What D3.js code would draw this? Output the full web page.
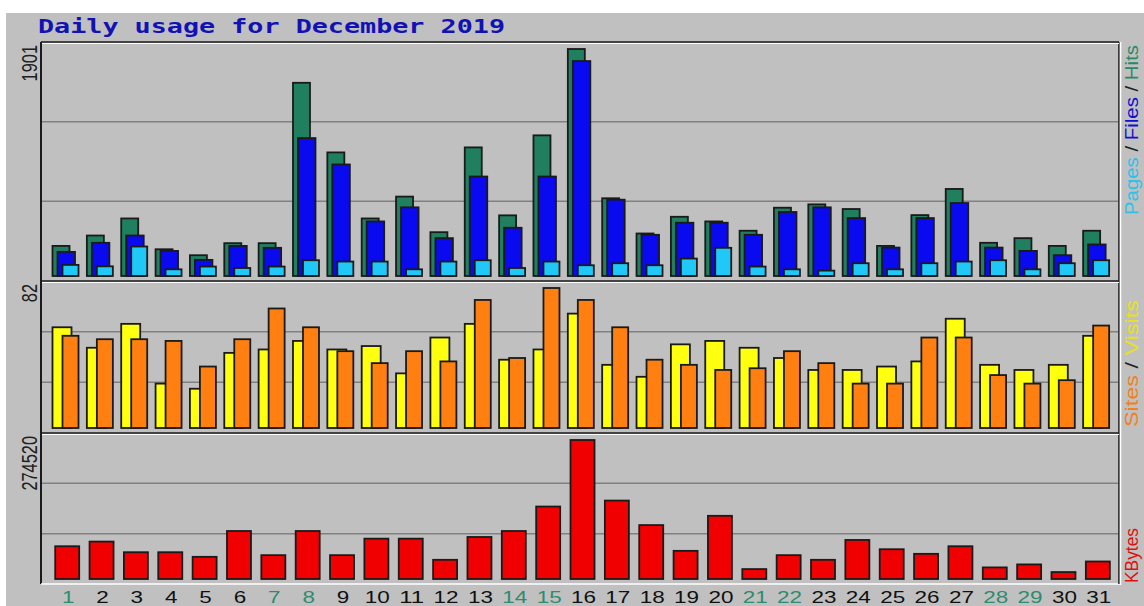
<!DOCTYPE html>
<html>
<head>
<meta charset="utf-8">
<script src="https://cdn.jsdelivr.net/npm/d3@7"></script>
<style>
  html, body { margin: 0; padding: 0; background: #fff; }
  svg { display: block; }
</style>
</head>
<body>
<div id="chart"></div>
<script>
// daily usage, December 2019
const days = d3.range(1, 32);
const weekends = [1, 7, 8, 14, 15, 21, 22, 28, 29];

const hits   = [252, 339, 482, 224, 174, 275, 275, 1618, 1035, 482, 665, 367, 1077, 508, 1178, 1901,
                651, 356, 496, 457, 379, 572, 600, 561, 252, 510, 729, 278, 317, 252, 379];
const files  = [202, 278, 339, 210, 135, 252, 236, 1155, 934, 457, 575, 317, 833, 404, 833, 1800,
                639, 345, 446, 446, 345, 536, 575, 485, 238, 485, 611, 238, 210, 174, 264];
const pages  = [93, 81, 247, 56, 79, 67, 79, 132, 121, 121, 56, 121, 132, 67, 121, 90,
                107, 90, 146, 236, 79, 56, 45, 107, 56, 107, 121, 132, 56, 107, 132];
const visits = [59, 47, 61, 26, 23, 44, 46, 51, 46, 48, 32, 53, 61, 40, 46, 67,
                37, 30, 49, 51, 47, 41, 34, 34, 36, 39, 64, 37, 34, 37, 54];
const sites  = [54, 52, 52, 51, 36, 52, 70, 59, 45, 38, 45, 39, 75, 41, 82, 75,
                59, 40, 37, 34, 35, 45, 38, 26, 26, 53, 53, 31, 26, 28, 60];
const kbytes = [64700, 73900, 52900, 52900, 43800, 94800, 47100, 94800, 47100, 79700, 79700, 37900,
                83000, 94800, 143100, 274520, 154900, 106500, 55600, 124800, 19600, 47100, 37900,
                77100, 58800, 49700, 64700, 22900, 28800, 13700, 34600];

const title = "Daily usage for December 2019";

const width = 1144, height = 606;
const frame = {left: 41, right: 1119, top: 42, bottom: 584};
const panels = [
  {top: 42, bottom: 281},
  {top: 281, bottom: 433},
  {top: 433, bottom: 584}
];

const svg = d3.select("#chart").append("svg")
  .attr("width", width)
  .attr("height", height);

svg.append("rect").attr("x", 6).attr("y", 13)
  .attr("width", width - 6).attr("height", height - 13)
  .attr("fill", "#c0c0c0");

// x: one band per day
const x = d3.scaleBand().domain(days).range([50, 1115]).paddingInner(0);
const step = x.step();

// gridlines at thirds of each panel
panels.forEach(function (p) {
  let h = (p.bottom - p.top) / 3;
  [1, 2].forEach(function (k) {
    svg.append("line")
      .attr("x1", frame.left + 1).attr("x2", frame.right - 1)
      .attr("y1", p.top + h * k).attr("y2", p.top + h * k)
      .attr("stroke", "#808080").attr("stroke-width", 1.5);
  });
});

function yFor(p, max) {
  return d3.scaleLinear().domain([0, max]).range([p.bottom - 5, p.top + 7]);
}

// series: values, colour, bar offset from band start, bar width
function drawBars(p, max, series) {
  let y = yFor(p, max);
  series.forEach(function (s) {
    svg.append("g").selectAll("rect").data(days).enter()
      .append("rect")
      .attr("x", function (d) { return x(d) + s.off; })
      .attr("width", s.w)
      .attr("y", function (d, i) { return y(s.values[i]); })
      .attr("height", function (d, i) { return y(0) - y(s.values[i]); })
      .attr("fill", s.color)
      .attr("stroke", "#1a1a1a")
      .attr("stroke-width", 1.8);
  });
}

drawBars(panels[0], d3.max(hits), [
  {values: hits,  color: "#1f7f5f", off: 2.5,  w: 17},
  {values: files, color: "#0a0af0", off: 7.5,  w: 17.5},
  {values: pages, color: "#20c8f8", off: 12.5, w: 16}
]);
drawBars(panels[1], d3.max(visits.concat(sites)), [
  {values: visits, color: "#ffff10", off: 2.5,  w: 19},
  {values: sites,  color: "#ff8010", off: 12.5, w: 16}
]);
drawBars(panels[2], d3.max(kbytes), [
  {values: kbytes, color: "#f00000", off: 5.2, w: 24}
]);

// frame: dark top/left, light bottom/right, separators
function hline(y, x1, x2, c, w) {
  svg.append("line").attr("x1", x1).attr("x2", x2).attr("y1", y).attr("y2", y)
    .attr("stroke", c).attr("stroke-width", w);
}
function vline(xp, y1, y2, c, w) {
  svg.append("line").attr("x1", xp).attr("x2", xp).attr("y1", y1).attr("y2", y2)
    .attr("stroke", c).attr("stroke-width", w);
}
hline(frame.top, frame.left, frame.right, "#1a1a1a", 1.6);
vline(frame.left, frame.top, frame.bottom, "#1a1a1a", 2);
hline(frame.bottom, frame.left, frame.right + 1, "#ffffff", 1.6);
vline(frame.right, frame.top, frame.bottom, "#1a1a1a", 1.6);
vline(frame.right + 1.5, frame.top, frame.bottom + 1, "#ffffff", 1.6);
hline(frame.top + 1.5, frame.left + 1, frame.right, "#ffffff", 1);
[panels[1].top, panels[2].top].forEach(function (yy) {
  hline(yy, frame.left, frame.right, "#1a1a1a", 1.6);
  hline(yy + 1.5, frame.left + 1, frame.right, "#ffffff", 1);
});

// title
svg.append("text")
  .attr("x", 38).attr("y", 33)
  .attr("font-family", "DejaVu Sans Mono")
  .attr("font-weight", "bold")
  .attr("font-size", 19)
  .attr("textLength", 467)
  .attr("lengthAdjust", "spacingAndGlyphs")
  .attr("fill", "#1212b4")
  .text(title);

// max value labels, rotated
const maxLabels = [d3.max(hits), d3.max(visits.concat(sites)), d3.max(kbytes)];
panels.forEach(function (p, i) {
  let t = String(maxLabels[i]);
  svg.append("text")
    .attr("transform", "translate(37," + (p.top + 3) + ") rotate(-90)")
    .attr("text-anchor", "end")
    .attr("font-family", "Liberation Sans")
    .attr("font-size", 22)
    .attr("textLength", t.length * 9.1)
    .attr("lengthAdjust", "spacingAndGlyphs")
    .attr("fill", "#202020")
    .text(t);
});

// legends on the right
const legends = [
  {y: 215, len: 170, parts: [["Pages", "#30c0e8"], [" / ", "#202020"], ["Files", "#1010d0"], [" / ", "#202020"], ["Hits", "#2a8a66"]]},
  {y: 427, len: 127, parts: [["Sites", "#f08020"], [" / ", "#202020"], ["Visits", "#e8e020"]]},
  {y: 583, len: 55,  parts: [["KBytes", "#e01010"]]}
];
legends.forEach(function (l) {
  let t = svg.append("text")
    .attr("transform", "translate(1138," + l.y + ") rotate(-90)")
    .attr("font-family", "Liberation Sans")
    .attr("font-size", 18)
    .attr("textLength", l.len)
    .attr("lengthAdjust", "spacingAndGlyphs");
  l.parts.forEach(function (pt) {
    t.append("tspan").attr("fill", pt[1]).text(pt[0]);
  });
});

// day labels
svg.append("g").selectAll("text").data(days).enter()
  .append("text")
  .attr("x", function (d) { return x(d) + step / 2 + 1; })
  .attr("y", 603)
  .attr("text-anchor", "middle")
  .attr("font-family", "Liberation Sans")
  .attr("font-size", 16.5)
  .attr("textLength", function (d) { return String(d).length * 12.5; })
  .attr("lengthAdjust", "spacingAndGlyphs")
  .attr("fill", function (d) { return weekends.indexOf(d) >= 0 ? "#2e8b6e" : "#101010"; })
  .text(function (d) { return d; });
</script>
</body>
</html>
